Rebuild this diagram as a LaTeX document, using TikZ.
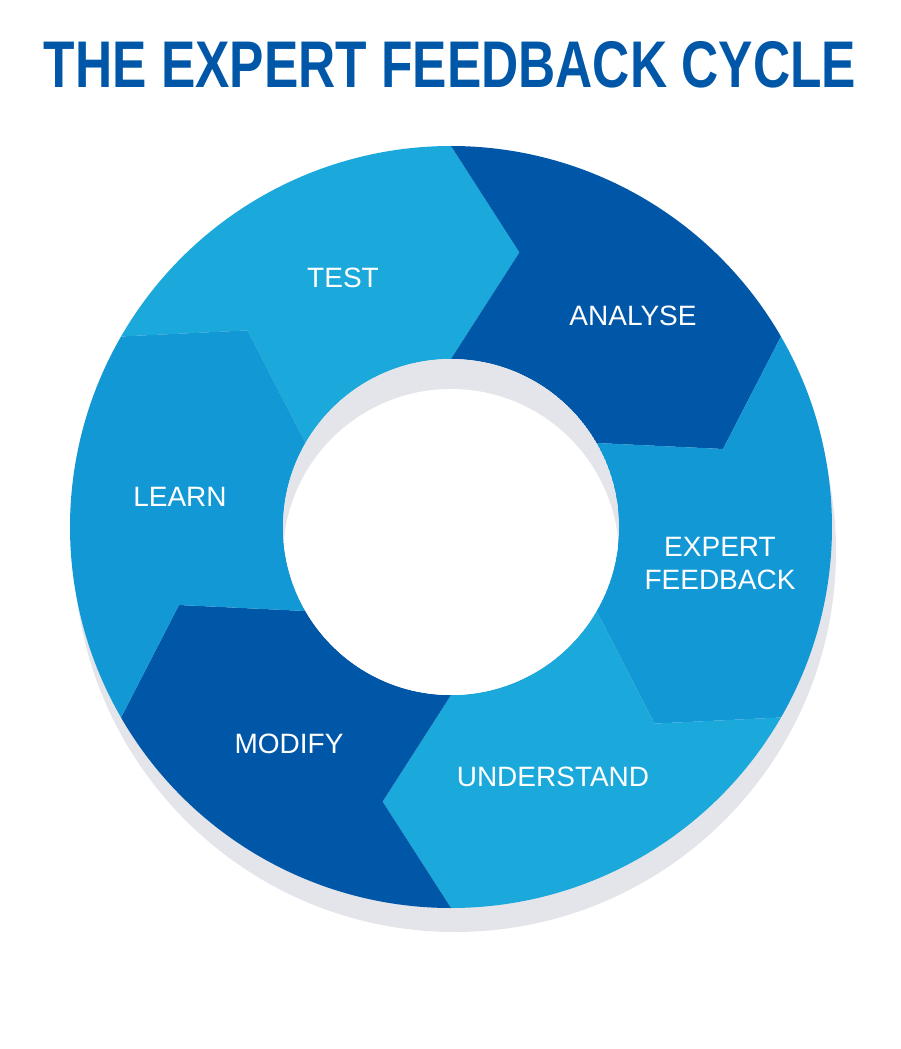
\documentclass[tikz,border=0pt]{standalone}
\usepackage{fontspec}
\setmainfont{Liberation Sans}
\definecolor{lightseg}{HTML}{1BA9DC}
\definecolor{midseg}{HTML}{1398D6}
\definecolor{darkseg}{HTML}{0057A8}
\definecolor{shadowgrey}{HTML}{E4E5EA}
\begin{document}
\begin{tikzpicture}[x=1pt,y=1pt,
    seglabel/.style={text=white,font=\fontsize{28}{33}\selectfont,align=center}]
  \useasboundingbox (-451,-522) rectangle (449,527);
  \def\Rout{381}\def\Rin{168}\def\Rmid{283}
  % title
  \node (title) at (-1,462) {\scalebox{0.78}[1]{\fontsize{66}{70}\selectfont\bfseries\color{darkseg}THE EXPERT FEEDBACK CYCLE}};
  % shadow
  \fill[shadowgrey] (4,-24) circle (\Rout);
  % segments
  \foreach \a/\col in {150/lightseg,90/darkseg,30/midseg,-30/lightseg,-90/darkseg,-150/midseg}{
    \fill[\col] (\a:\Rout) arc[start angle=\a,end angle=\a-60,radius=\Rout]
      -- (\a-74:\Rmid) -- (\a-60:\Rin)
      arc[start angle=\a-60,end angle=\a,radius=\Rin]
      -- (\a-14:\Rmid) -- cycle;
  }
  % hole
  \begin{scope}
    \clip (0,0) circle (\Rin);
    \fill[shadowgrey] (0,0) circle (\Rin);
    \fill[white] (0,-30) circle (\Rin);
  \end{scope}
  % labels
  \node[seglabel] (test) at (-108,249) {TEST};
  \node[seglabel] (analyse) at (182,211) {ANALYSE};
  \node[seglabel] (expert) at (269,-37) {EXPERT\\FEEDBACK};
  \node[seglabel] (understand) at (102,-250) {UNDERSTAND};
  \node[seglabel] (modify) at (-162,-217) {MODIFY};
  \node[seglabel] (learn) at (-271,30) {LEARN};
\end{tikzpicture}
\end{document}
